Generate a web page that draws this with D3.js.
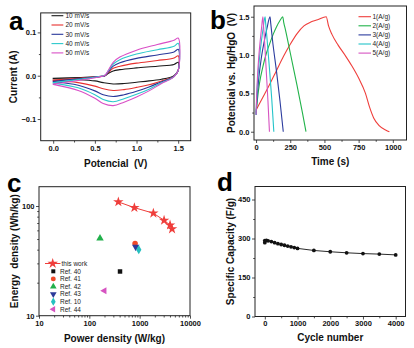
<!DOCTYPE html>
<html>
<head>
<meta charset="utf-8">
<script src="https://cdn.jsdelivr.net/npm/d3@7/dist/d3.min.js"></script>
<style>
  body { margin: 0; background: #fff; }
  svg { display: block; font-family: "Liberation Sans", Arial, sans-serif; }
  .axis text { font-size: 7.5px; font-weight: bold; fill: #111; }
  .axis line { stroke: #222; stroke-width: 0.8; }
  .axis path { display: none; }
  .title { font-size: 10px; font-weight: bold; fill: #111; white-space: pre; }
  .legend { font-size: 6.5px; fill: #222; }
  .letter { font-size: 26px; font-weight: bold; fill: #000; }
</style>
</head>
<body>
<svg id="fig" width="414" height="348"></svg>
<script>
// ---- panel a: cyclic voltammetry ----
const cvRates = ["10 mV/s", "20 mV/s", "30 mV/s", "40 mV/s", "50 mV/s"];
const cvColors = ["#1a1a1a", "#e8312f", "#28379a", "#2cc9cc", "#d94fc6"];
const cvUpV = [0, 0.3, 0.55, 0.62, 0.66, 0.72, 0.8, 1.0, 1.25, 1.45, 1.5];
const cvDownV = [1.5, 1.45, 1.4, 1.3, 1.15, 1.0, 0.85, 0.72, 0.6, 0.5, 0.3, 0];
const cvUpI = [
  [-0.006, -0.004, -0.002, 0.0, 0.005, 0.011, 0.014, 0.018, 0.022, 0.026, 0.031],
  [-0.010, -0.006, -0.002, 0.0, 0.007, 0.017, 0.022, 0.029, 0.035, 0.041, 0.046],
  [-0.013, -0.007, -0.002, 0.0, 0.009, 0.022, 0.030, 0.040, 0.048, 0.055, 0.061],
  [-0.016, -0.009, -0.002, 0.001, 0.011, 0.027, 0.037, 0.050, 0.060, 0.068, 0.075],
  [-0.019, -0.011, -0.003, 0.001, 0.012, 0.031, 0.043, 0.059, 0.072, 0.082, 0.087]
];
const cvDownI = [
  [0.012, 0.0, -0.004, -0.008, -0.012, -0.015, -0.018, -0.019, -0.016, -0.012, -0.009, -0.007],
  [0.012, -0.001, -0.006, -0.012, -0.021, -0.027, -0.032, -0.034, -0.030, -0.024, -0.016, -0.011],
  [0.012, -0.001, -0.007, -0.014, -0.026, -0.036, -0.044, -0.048, -0.044, -0.035, -0.022, -0.014],
  [0.012, -0.002, -0.008, -0.016, -0.031, -0.043, -0.053, -0.060, -0.055, -0.044, -0.028, -0.017],
  [0.012, -0.002, -0.009, -0.018, -0.035, -0.049, -0.061, -0.069, -0.064, -0.052, -0.034, -0.020]
];

// ---- panel b: charge / discharge ----
const gcdLabels = ["1(A/g)", "2(A/g)", "3(A/g)", "4(A/g)", "5(A/g)"];
const gcdColors = ["#ef3e3b", "#22b34a", "#2b3b9e", "#23c4c9", "#d653c1"];
const gcd1 = [[0,0.28],[50,0.45],[100,0.62],[150,0.80],[200,0.98],[250,1.14],[300,1.28],[350,1.38],[400,1.43],[450,1.46],[513,1.5],
  [530,1.38],[555,1.27],[600,1.13],[650,1.0],[700,0.86],[750,0.7],[800,0.5],[830,0.32],[860,0.18],[900,0.08],[950,0.02],[975,0.0]];
const gcd2 = [[0,0.25],[10,0.42],[25,0.63],[50,0.85],[75,1.02],[100,1.15],[125,1.27],[150,1.37],[175,1.45],[195,1.5],
  [203,1.42],[215,1.33],[250,1.03],[300,0.6],[340,0.24],[365,0.0]];
const gcd3 = [[0,0.22],[8,0.45],[20,0.7],[40,0.98],[60,1.18],[80,1.35],[102,1.5],[107,1.42],[120,1.2],[150,0.78],[175,0.4],[199,0.0]];
const gcd4 = [[0,0.22],[5,0.45],[13,0.7],[26,0.98],[39,1.18],[52,1.35],[66,1.5],[70,1.42],[80,1.22],[100,0.78],[115,0.42],[130,0.0]];
const gcd5 = [[0,0.22],[4,0.45],[10,0.7],[20,0.98],[30,1.18],[40,1.35],[50,1.5],[53,1.42],[60,1.25],[75,0.78],[87,0.4],[98,0.0]];
const gcdSeries = [gcd1, gcd2, gcd3, gcd4, gcd5];

// ---- panel c: Ragone plot ----
const thisWorkPower = [377, 785, 1870, 3055, 4015, 4400];
const thisWorkEnergy = [109, 96.6, 86, 74, 67, 61.8];
const refNames = ["Ref. 40", "Ref. 41", "Ref. 42", "Ref. 43", "Ref. 10", "Ref. 44"];
const refPower = [407, 811, 163, 836, 960, 199];
const refEnergy = [25.3, 45.5, 50.8, 42.4, 40, 16.9];
const refColors = ["#111111", "#f04a2a", "#21b04b", "#2c3a9a", "#25c0c0", "#d653c1"];

// ---- panel d: cycling ----
const cycles = [0, 0, 50, 100, 200, 300, 400, 500, 600, 700, 800, 900, 1000, 1500, 2000, 2500, 3000, 3500, 4000];
const capacity = [284, 292, 293, 291, 288, 284, 280, 277, 274, 271, 268, 265, 262, 254, 249, 245, 242, 240, 237];

const svg = d3.select("#fig");
svg.append("rect").attr("width", 414).attr("height", 348).attr("fill", "#fff");

// draw frame + axes for one panel
function drawAxes(x, y, opt) {
  const [x0, x1] = x.range();
  const [y1, y0] = y.range();
  const g = svg.append("g");

  g.append("g").attr("class", "axis").attr("transform", "translate(0," + y1 + ")")
    .call(d3.axisBottom(x).tickValues(opt.xMinor).tickSize(1.8).tickFormat(""));
  g.append("g").attr("class", "axis").attr("transform", "translate(0," + y1 + ")")
    .call(d3.axisBottom(x).tickValues(opt.xTicks).tickSize(3).tickPadding(1.5).tickFormat(opt.xFmt));
  g.append("g").attr("class", "axis").attr("transform", "translate(" + x0 + ",0)")
    .call(d3.axisLeft(y).tickValues(opt.yMinor).tickSize(1.8).tickFormat(""));
  g.append("g").attr("class", "axis").attr("transform", "translate(" + x0 + ",0)")
    .call(d3.axisLeft(y).tickValues(opt.yTicks).tickSize(3).tickPadding(1.5).tickFormat(opt.yFmt));

  g.append("rect")
    .attr("x", x0).attr("y", y0)
    .attr("width", x1 - x0).attr("height", y1 - y0)
    .attr("fill", "none").attr("stroke", "#222").attr("stroke-width", 1);

  // axis titles
  g.append("text").attr("class", "title")
    .attr("x", (x0 + x1) / 2).attr("y", opt.xTitleY)
    .attr("text-anchor", "middle").text(opt.xTitle);
  g.append("text").attr("class", "title")
    .attr("transform", "translate(" + opt.yTitleX + "," + (y0 + y1) / 2 + ") rotate(-90)")
    .attr("text-anchor", "middle").text(opt.yTitle);

  g.append("text").attr("class", "letter")
    .attr("x", opt.letterX).attr("y", opt.letterY).text(opt.letter);
  return g;
}

// ================= a =================
const xa = d3.scaleLinear().domain([-0.15, 1.65]).range([40.7, 190.7]);
const ya = d3.scaleLinear().domain([-0.15, 0.145]).range([140.7, 12.9]);
const ga = drawAxes(xa, ya, {
  xTicks: [0, 0.5, 1, 1.5], xMinor: [0.25, 0.75, 1.25], xFmt: d3.format(".1f"),
  yTicks: [-0.1, 0, 0.1], yMinor: [-0.05, 0.05], yFmt: d3.format(".1f"),
  xTitle: "Potencial  (V)", xTitleY: 167, yTitle: "Current (A)", yTitleX: 17,
  letter: "a", letterX: 9, letterY: 30
});

const cvLine = d3.line().x(d => xa(d[0])).y(d => ya(d[1])).curve(d3.curveCatmullRom.alpha(0.5));
cvRates.forEach((r, i) => {
  const pts = cvUpV.map((v, j) => [v, cvUpI[i][j]])
    .concat(cvDownV.map((v, j) => [v, cvDownI[i][j]]));
  ga.append("path").attr("d", cvLine(pts) + "Z")
    .attr("fill", "none").attr("stroke", cvColors[i]).attr("stroke-width", 1.1);

  // legend
  const ly = 15.7 + i * 9.3;
  ga.append("line").attr("x1", 51.5).attr("x2", 63.3).attr("y1", ly).attr("y2", ly)
    .attr("stroke", cvColors[i]).attr("stroke-width", 1.1);
  ga.append("text").attr("class", "legend").attr("x", 65.5).attr("y", ly + 2.3).text(r);
});

// ================= b =================
const xb = d3.scaleLinear().domain([-15, 1100]).range([254, 406.5]);
const yb = d3.scaleLinear().domain([-0.108, 1.64]).range([140, 6]);
const gb = drawAxes(xb, yb, {
  xTicks: [0, 250, 500, 750, 1000], xMinor: [125, 375, 625, 875], xFmt: d3.format("d"),
  yTicks: [0, 0.5, 1, 1.5], yMinor: [0.25, 0.75, 1.25], yFmt: d3.format(".1f"),
  xTitle: "Time (s)", xTitleY: 165, yTitle: "Potencial vs. Hg/HgO  (V)", yTitleX: 235,
  letter: "b", letterX: 210, letterY: 28.5
});

const gcdLine = d3.line().x(d => xb(d[0])).y(d => yb(d[1])).curve(d3.curveMonotoneX);
gcdSeries.forEach((s, i) => {
  gb.append("path").attr("d", gcdLine(s))
    .attr("fill", "none").attr("stroke", gcdColors[i]).attr("stroke-width", 1.1);
  const ly = 16.7 + i * 9.1;
  gb.append("line").attr("x1", 358.5).attr("x2", 371).attr("y1", ly).attr("y2", ly)
    .attr("stroke", gcdColors[i]).attr("stroke-width", 1.1);
  gb.append("text").attr("class", "legend").attr("x", 372.5).attr("y", ly + 2.3).text(gcdLabels[i]);
});

// ================= c =================
const xc = d3.scaleLog().domain([10, 10000]).range([39, 190]);
const yc = d3.scaleLog().domain([10, 150]).range([315.7, 186.7]);
const minorLog = (lo, hi) => {
  const out = [];
  for (let p = lo; p < hi; p *= 10) for (let k = 2; k <= 9; k++) out.push(p * k);
  return out;
};
const gc = drawAxes(xc, yc, {
  xTicks: [10, 100, 1000, 10000], xMinor: minorLog(10, 10000), xFmt: d3.format("d"),
  yTicks: [10, 100], yMinor: minorLog(10, 100), yFmt: d3.format("d"),
  xTitle: "Power density (W/kg)", xTitleY: 342, yTitle: "Energy  density (Wh/kg)", yTitleX: 18,
  letter: "c", letterX: 7, letterY: 192
});

const starSym = d3.symbol().type(d3.symbolStar).size(34);
const thisWork = thisWorkPower.map((p, i) => [p, thisWorkEnergy[i]]);
gc.append("path")
  .attr("d", d3.line().x(d => xc(d[0])).y(d => yc(d[1]))(thisWork))
  .attr("fill", "none").attr("stroke", "#ef3e3b").attr("stroke-width", 1);
gc.selectAll(".star").data(thisWork).enter().append("path")
  .attr("transform", d => "translate(" + xc(d[0]) + "," + yc(d[1]) + ")")
  .attr("d", starSym).attr("fill", "#ef3e3b");

const refSymbols = [
  { type: d3.symbolSquare, size: 20, rot: 0 },
  { type: d3.symbolCircle, size: 24, rot: 0 },
  { type: d3.symbolTriangle, size: 24, rot: 0 },
  { type: d3.symbolTriangle, size: 24, rot: 180 },
  { type: d3.symbolDiamond, size: 24, rot: 0 },
  { type: d3.symbolTriangle, size: 22, rot: -90 }
];
refNames.forEach((n, i) => {
  const s = refSymbols[i];
  gc.append("path")
    .attr("transform", "translate(" + xc(refPower[i]) + "," + yc(refEnergy[i]) + ") rotate(" + s.rot + ")")
    .attr("d", d3.symbol().type(s.type).size(s.size)).attr("fill", refColors[i]);
  // legend entry
  const ly = 271.3 + i * 7.6;
  gc.append("path")
    .attr("transform", "translate(53.3," + ly + ") rotate(" + s.rot + ")")
    .attr("d", d3.symbol().type(s.type).size(s.size * 0.8)).attr("fill", refColors[i]);
  gc.append("text").attr("class", "legend").attr("x", 60).attr("y", ly + 2.3).text(n);
});
// "this work" legend
gc.append("line").attr("x1", 45).attr("x2", 60.5).attr("y1", 263.5).attr("y2", 263.5)
  .attr("stroke", "#ef3e3b").attr("stroke-width", 1);
gc.append("path").attr("transform", "translate(52.7,263.5)").attr("d", starSym).attr("fill", "#ef3e3b");
gc.append("text").attr("class", "legend").attr("x", 61.5).attr("y", 265.8).text("this work");

// ================= d =================
const xd = d3.scaleLinear().domain([-300, 4300]).range([255, 405.5]);
const yd = d3.scaleLinear().domain([0, 500]).range([316.5, 186.5]);
const gd = drawAxes(xd, yd, {
  xTicks: [0, 1000, 2000, 3000, 4000], xMinor: [500, 1500, 2500, 3500], xFmt: d3.format("d"),
  yTicks: [0, 150, 300, 450], yMinor: [75, 225, 375], yFmt: d3.format("d"),
  xTitle: "Cycle number", xTitleY: 341, yTitle: "Specific Capacity (F/g)", yTitleX: 234,
  letter: "d", letterX: 217, letterY: 190.5
});

const capPts = cycles.map((c, i) => [c, capacity[i]]);
gd.append("path")
  .attr("d", d3.line().x(d => xd(d[0])).y(d => yd(d[1]))(capPts.slice(1)))
  .attr("fill", "none").attr("stroke", "#111").attr("stroke-width", 0.9);
gd.selectAll(".dot").data(capPts).enter().append("circle")
  .attr("cx", d => xd(d[0])).attr("cy", d => yd(d[1])).attr("r", 1.9).attr("fill", "#111");
</script>
</body>
</html>
